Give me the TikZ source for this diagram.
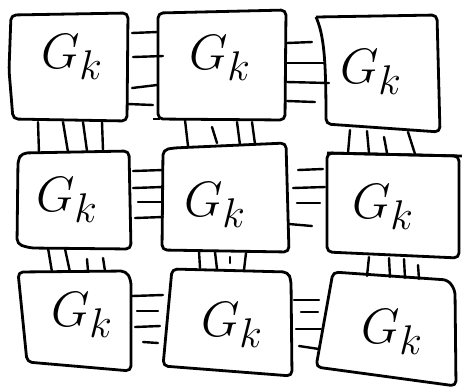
\documentclass[tikz,border=0pt]{standalone}
\begin{document}
\begin{tikzpicture}[x=0.5pt,y=-0.5pt,
  box/.style={line width=1.4pt, rounded corners=2.5pt, line join=round},
  tick/.style={line width=1.2pt, line cap=round},
  lab/.style={font=\fontsize{28}{30}\selectfont, inner sep=0pt}]
\useasboundingbox (0,0) rectangle (462,388);
\fill[white] (0,0) rectangle (462,388);
% ---------------- boxes ----------------
% row 1
\draw[box] (11,15) -- (128,13) -- (127,121) -- (13,119) -- (9,70) -- cycle;
\draw[box] (158,13) -- (286,10) -- (285,120) -- (158,119) -- cycle;
\draw[box] (153,119) -- (160,119);
\draw[box] (316,17) -- (437,15) -- (440,132) -- (326,124) .. controls (326,60) and (324,35) .. (316,17);
% row 2
\draw[box] (22,153) -- (129,151) -- (131,249) -- (30,248) -- (17,244) -- (18,160) -- cycle;
\draw[box] (163,150) -- (173,148) -- (286,143) -- (289,252) -- (162,250) -- cycle;
\draw[box] (327,153) -- (462,156);
\draw[box] (327,153) -- (459,156) -- (459,258) -- (327,252) -- cycle;
% row 3
\draw[box] (18,272) -- (126,271) -- (131,280) -- (131,371) -- (27,362) -- cycle;
\draw[box] (172,269) -- (288,272) -- (291,280) -- (292,376) -- (163,366) -- cycle;
\draw[box] (333,272) -- (448,280) -- (455,290) -- (456,386) -- (316,367) -- cycle;
% ---------------- labels ----------------
\node[lab] (gA) at (72,57) {$G_k$};
\node[lab] (gB) at (220,58) {$G_k$};
\node[lab] (gC) at (371,72) {$G_k$};
\node[lab] (gD) at (67,200) {$G_k$};
\node[lab] (gE) at (215,205) {$G_k$};
\node[lab] (gF) at (383,207) {$G_k$};
\node[lab] (gG) at (82,315) {$G_k$};
\node[lab] (gH) at (232,325) {$G_k$};
\node[lab] (gI) at (392,332) {$G_k$};
% ---------------- horizontal links ----------------
% A - B
\draw[tick] (132,33) -- (157,32);
\draw[tick] (133,57) -- (163,56);
\draw[tick] (132,88) -- (157,85);
\draw[tick] (128,104) -- (153,105);
% B - C
\draw[tick] (287,43) -- (312,42);
\draw[tick] (287,63) -- (325,63);
\draw[tick] (287,82) -- (329,83);
\draw[tick] (287,101) -- (315,102);
% D - E
\draw[tick] (133,171) -- (163,170);
\draw[tick] (133,188) -- (163,187);
\draw[tick] (138,202) -- (162,202);
\draw[tick] (135,218) -- (163,217);
% E - F
\draw[tick] (298,170) -- (323,169);
\draw[tick] (293,188) -- (325,187);
\draw[tick] (297,203) -- (320,203);
\draw[tick] (289,224) -- (312,226);
% G - H
\draw[tick] (132,296) -- (163,295);
\draw[tick] (137,311) -- (158,311);
\draw[tick] (135,327) -- (160,326);
\draw[tick] (143,342) -- (158,343);
% H - I
\draw[tick] (294,300) -- (319,300);
\draw[tick] (301,312) -- (318,312);
\draw[tick] (296,329) -- (321,329);
\draw[tick] (299,346) -- (319,349);
% ---------------- vertical links ----------------
% A - D
\draw[tick] (38,122) -- (39,153);
\draw[tick] (63,122) -- (68,152);
\draw[tick] (83,122) -- (87,151);
\draw[tick] (102,122) -- (103,150);
% B - E
\draw[tick] (185,120) -- (188,146);
\draw[tick] (212,127) -- (217,143);
\draw[tick] (237,122) -- (240,145);
\draw[tick] (252,122) -- (255,144);
% C - F
\draw[tick] (350,130) -- (348,153);
\draw[tick] (367,131) -- (369,153);
\draw[tick] (384,137) -- (387,153);
\draw[tick] (408,132) -- (415,154);
% D - E row to G - H - I
\draw[tick] (48,248) -- (52,272);
\draw[tick] (65,249) -- (70,272);
\draw[tick] (87,259) -- (88,271);
\draw[tick] (103,258) -- (105,271);
% E - H
\draw[tick] (199,251) -- (200,268);
\draw[tick] (215,252) -- (217,269);
\draw[tick] (230,257) -- (230,263);
\draw[tick] (246,253) -- (244,270);
% F - I
\draw[tick] (369,257) -- (367,276);
\draw[tick] (389,258) -- (390,277);
\draw[tick] (404,259) -- (405,278);
\draw[tick] (418,265) -- (419,279);
\end{tikzpicture}
\end{document}
